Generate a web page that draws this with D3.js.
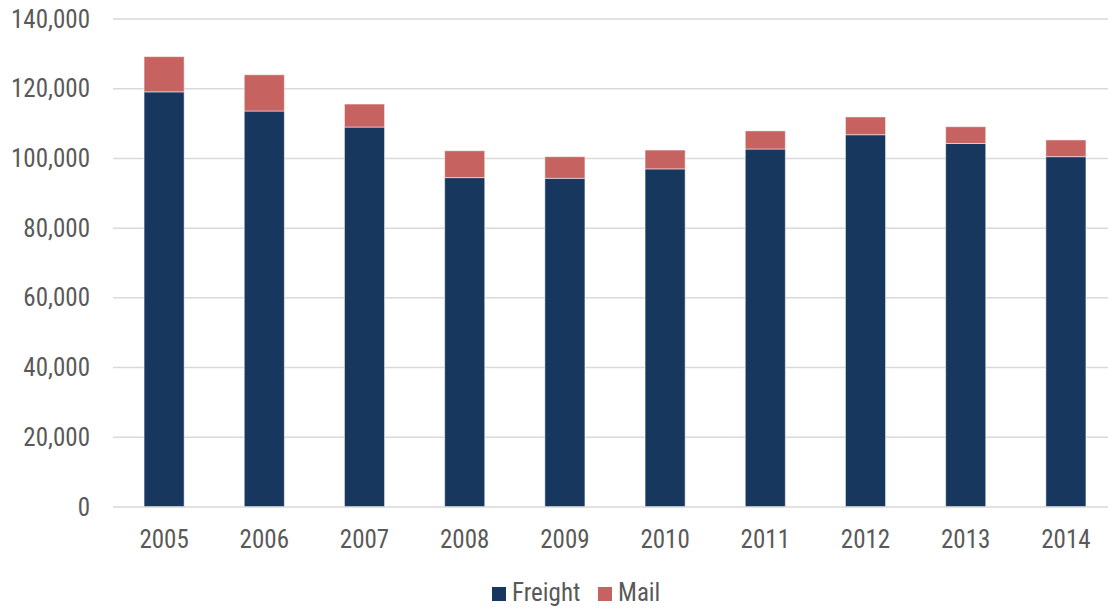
<!DOCTYPE html>
<html><head><meta charset="utf-8">
<script src="https://cdn.jsdelivr.net/npm/d3@7/dist/d3.min.js"></script>
<style>
body{margin:0;background:#fff;}
text{font-family:"Liberation Sans Narrow","Arial Narrow","Roboto Condensed",sans-serif;fill:#595959;}
</style></head>
<body><svg id="c" width="1108" height="610"></svg>
<script>
const years = ["2005","2006","2007","2008","2009","2010","2011","2012","2013","2014"];
const freight = [119100,113600,109000,94500,94300,97000,102700,106800,104300,100500];
const mail = [10100,10400,6600,7700,6200,5400,5200,5100,4800,4800];
const seriesNames = ["Freight","Mail"];
const seriesColors = ["#18375E","#C6625F"];
const yTicks = [0,20000,40000,60000,80000,100000,120000,140000];

const svg = d3.select("#c");
const L = 113, R = 1108, T = 19, B = 507;
const x = d3.scaleBand().domain(years).range([L,1117]).paddingInner(0.6).paddingOuter(0.31);
const y = d3.scaleLinear().domain([0,140000]).range([B,T]);

// gridlines
svg.append("g").selectAll("line").data(yTicks.filter(d=>d>0)).join("line")
  .attr("x1",L).attr("x2",R).attr("y1",d=>y(d)).attr("y2",d=>y(d))
  .attr("stroke","#D9D9D9").attr("stroke-width",1.5);

// y axis labels
const yAxis = d3.axisLeft(y).tickValues(yTicks).tickSize(0).tickPadding(0)
  .tickFormat(d3.format(","));
const gy = svg.append("g").attr("transform",`translate(90,0)`).call(yAxis);
gy.select(".domain").remove();
gy.selectAll("text").attr("font-size",25).attr("font-family",null);

const data = years.map((yr,i)=>({year:yr,Freight:freight[i],Mail:mail[i]}));
const stack = d3.stack().keys(seriesNames)(data);
svg.append("g").selectAll("g").data(stack).join("g")
  .attr("fill",(d,i)=>seriesColors[i])
  .selectAll("rect").data(d=>d).join("rect")
  .attr("x",d=>x(d.data.year)).attr("width",x.bandwidth())
  .attr("y",d=>y(d[1])).attr("height",d=>y(d[0])-y(d[1]))
  .attr("stroke","rgba(255,255,255,0.5)").attr("stroke-width",1);

// x axis
const xAxis = d3.axisBottom(x).tickSize(0).tickPadding(0);
const gx = svg.append("g").attr("transform",`translate(0,${B})`).call(xAxis);
gx.select(".domain").remove();
gx.selectAll("text").attr("font-size",25).attr("dy",null).attr("y",41).attr("font-family",null);
svg.append("line").attr("x1",L).attr("x2",R).attr("y1",B).attr("y2",B)
  .attr("stroke","#D9D9D9").attr("stroke-width",1.5);

// legend
const legX = [492,598];
const lg = svg.append("g").selectAll("g").data(seriesNames).join("g")
  .attr("transform",(d,i)=>`translate(${legX[i]},587)`);
lg.append("rect").attr("width",14).attr("height",14).attr("fill",(d,i)=>seriesColors[i]);
lg.append("text").attr("x",20).attr("y",14).attr("font-size",25).text(d=>d);
</script></body></html>
